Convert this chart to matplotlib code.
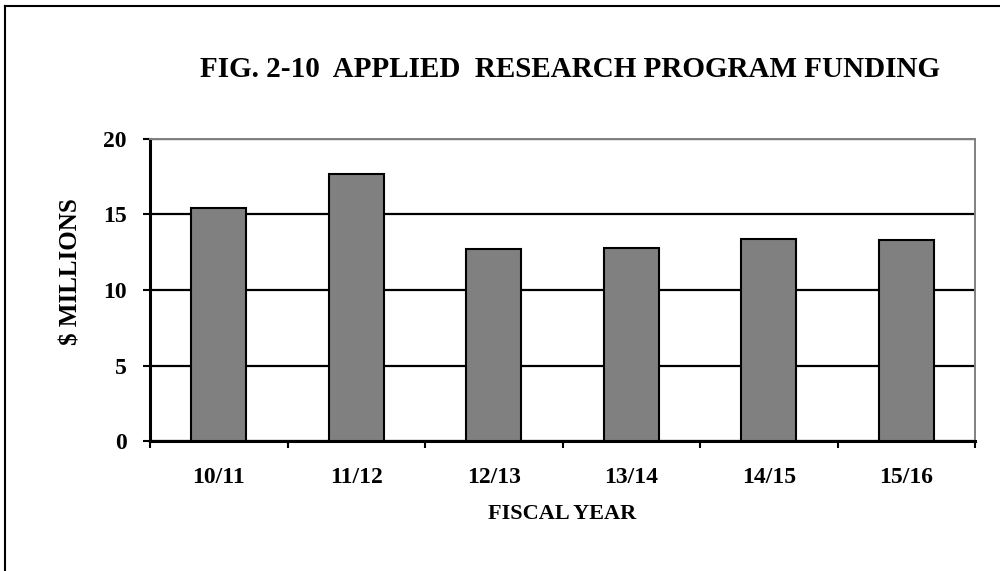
import matplotlib
matplotlib.use('Agg')
import matplotlib.pyplot as plt
from matplotlib.lines import Line2D
import numpy as np

# Data
years = ['10/11', '11/12', '12/13', '13/14', '14/15', '15/16']
funding = [15.4, 17.7, 12.7, 12.8, 13.4, 13.3]  # $ millions
y_ticks = [0, 5, 10, 15, 20]

plt.rcParams['font.family'] = ['Liberation Serif', 'DejaVu Serif']
plt.rcParams['font.weight'] = 'bold'

fig = plt.figure(figsize=(10, 5.71), dpi=100)
ax = fig.add_axes([0.15, 1 - 441 / 571, 0.825, (441 - 139) / 571])

x = np.arange(len(years))
ax.bar(x, funding, width=0.4, color='#808080', edgecolor='black', linewidth=1.5, zorder=3)

ax.set_xlim(-0.5, len(years) - 0.5)
ax.set_ylim(0, 20)
ax.set_yticks(y_ticks)
ax.set_yticklabels([str(v) for v in y_ticks], fontsize=17, fontweight='bold')
ax.yaxis.grid(True, color='black', linewidth=1.6, zorder=1)
ax.set_axisbelow(True)

# category labels centered, ticks at boundaries
ax.set_xticks(x)
ax.set_xticklabels(years, fontsize=17, fontweight='bold')
ax.tick_params(axis='x', which='major', length=0, pad=19)
ax.set_xticks(np.arange(-0.5, len(years)), minor=True)
ax.tick_params(axis='x', which='minor', length=5, width=1.5, direction='out')
ax.tick_params(axis='y', length=5, width=1.5, direction='out', pad=12)

for s in ['left', 'bottom']:
    ax.spines[s].set_linewidth(2.2)
    ax.spines[s].set_color('black')
for s in ['top', 'right']:
    ax.spines[s].set_linewidth(1.4)
    ax.spines[s].set_color('#808080')

ax.set_ylabel('$ MILLIONS', fontsize=18, fontweight='bold')
ax.yaxis.set_label_coords(-0.082, 0.56)
ax.set_xlabel('FISCAL YEAR', fontsize=16, fontweight='bold', labelpad=11)

fig.text(0.570, 1 - 77 / 571, 'FIG. 2-10  APPLIED  RESEARCH PROGRAM FUNDING',
         ha='center', va='baseline', fontsize=21, fontweight='bold')

# outer frame (left and top edges)
fig.add_artist(Line2D([0.005, 0.005], [0, 1 - 6 / 571], transform=fig.transFigure,
                      color='black', linewidth=1.5))
fig.add_artist(Line2D([0.005, 1.0], [1 - 6 / 571, 1 - 6 / 571], transform=fig.transFigure,
                      color='black', linewidth=1.5))

fig.savefig('out.png', dpi=100)
